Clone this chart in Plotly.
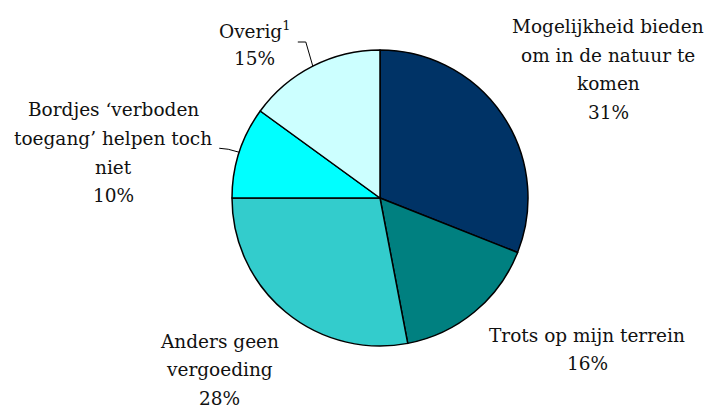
import math
import plotly.graph_objects as go

labels = ["Mogelijkheid bieden om in de natuur te komen", "Trots op mijn terrein",
          "Anders geen vergoeding", "Bordjes ‘verboden toegang’ helpen toch niet", "Overig¹"]
label_lines = [["Mogelijkheid bieden", "om in de natuur te", "komen"],
               ["Trots op mijn terrein"],
               ["Anders geen", "vergoeding"],
               ["Bordjes ‘verboden", "toegang’ helpen toch", "niet"],
               ["Overig<sup>1</sup>"]]
values = [31, 16, 28, 10, 15]
colors = ["#003366", "#008080", "#33CCCC", "#00FFFF", "#CCFFFF"]

W, H = 707, 408
cx, cy, R = 380, 198, 148  # pixel geometry of pie

# label block centres (px), first line y
label_pos = [(608, 27), (587, 335), (219, 341), (113, 110), (254, 30)]
line_h = 28.5
FONT = "DejaVu Serif"
FS = 18.5

fig = go.Figure(go.Pie(
    labels=labels, values=values, sort=False, direction="clockwise", rotation=0,
    marker=dict(colors=colors, line=dict(color="black", width=1.5)),
    textinfo="none", hoverinfo="label+percent", showlegend=False,
    domain=dict(x=[(cx - R) / W, (cx + R) / W], y=[(H - cy - R) / H, (H - cy + R) / H]),
))

def px(x, y):
    return x / W, 1 - y / H

annotations = []
total = sum(values)
for i, (lines, (lx, ly)) in enumerate(zip(label_lines, label_pos)):
    pct = f"{round(values[i] / total * 100)}%"
    for j, t in enumerate(lines + [pct]):
        x, y = px(lx, ly + j * line_h)
        annotations.append(dict(x=x, y=y, xref="paper", yref="paper", text=t, showarrow=False,
                                xanchor="center", yanchor="middle",
                                font=dict(family=FONT, size=FS, color="#111111")))

# leader lines for small slices (Bordjes, Overig), from slice mid-angle on the rim
shapes = []
cum = 0
for i, v in enumerate(values):
    mid = (cum + v / 2) / total * 2 * math.pi
    cum += v
    if i in (3, 4):
        ex, ey = cx + R * math.sin(mid), cy - R * math.cos(mid)
        if i == 4:
            bx, by = ex - 7, 42
            tx, ty = bx - 8, 42
        else:
            bx, by = ex - 11, ey - 3
            tx, ty = bx - 9, by - 1
        p = [px(ex, ey), px(bx, by), px(tx, ty)]
        path = "M {} {} L {} {} L {} {}".format(p[0][0], p[0][1], p[1][0], p[1][1], p[2][0], p[2][1])
        shapes.append(dict(type="path", xref="paper", yref="paper", path=path,
                           line=dict(color="black", width=1)))

fig.update_layout(width=W, height=H, margin=dict(l=0, r=0, t=0, b=0),
                  paper_bgcolor="white", plot_bgcolor="white",
                  annotations=annotations, shapes=shapes)
fig.write_html("out.html", config={"displayModeBar": False},
               post_script="document.body.style.margin='0';")
